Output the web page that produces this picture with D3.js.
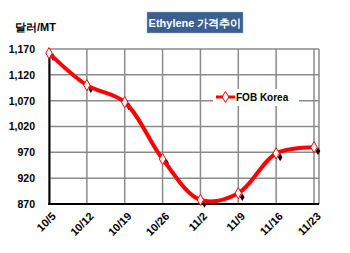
<!doctype html>
<html>
<head>
<meta charset="UTF-8">
<title>ethylene</title>
<script src="https://d3js.org/d3.v7.min.js"></script>
<style>
  body{margin:0;background:#fff;}
  text{font-family:Arial,"Liberation Sans",sans-serif;font-weight:bold;}
</style>
</head>
<body>
<svg id="chart" width="350" height="253"></svg>
<script>
var dates = ["10/5","10/12","10/19","10/26","11/2","11/9","11/16","11/23"];
var fobKorea = [1162, 1100, 1067, 957, 878, 891, 968, 980];
var yTicks = [870, 920, 970, 1020, 1070, 1120, 1170];

var svg = d3.select("#chart");
var pLeft = 49, pRight = 319, pTop = 49, pBottom = 204;

var x = d3.scalePoint().domain(dates).range([pLeft, 314]);
var y = d3.scaleLinear().domain([870, 1170]).range([pBottom, pTop]);

// grid
svg.append("g").selectAll("line").data(yTicks).enter().append("line")
  .attr("x1", pLeft).attr("x2", pRight)
  .attr("y1", function(d){return y(d);}).attr("y2", function(d){return y(d);})
  .attr("stroke", "#8a8a8a").attr("stroke-width", 1.5);
svg.append("g").selectAll("line").data(dates).enter().append("line")
  .attr("x1", function(d){return x(d);}).attr("x2", function(d){return x(d);})
  .attr("y1", pTop).attr("y2", pBottom)
  .attr("stroke", "#8a8a8a").attr("stroke-width", 1.5);
svg.append("line").attr("x1", pRight).attr("x2", pRight).attr("y1", pTop).attr("y2", pBottom)
  .attr("stroke", "#8a8a8a").attr("stroke-width", 1.5);

// axes
var yAxis = d3.axisLeft(y).tickValues(yTicks).tickSize(0).tickPadding(14)
  .tickFormat(d3.format(","));
var gy = svg.append("g").attr("transform", "translate(" + pLeft + ",0)").call(yAxis);
gy.select(".domain").attr("stroke", "#000").attr("stroke-width", 2);
gy.selectAll("text").attr("font-size", 10.5).attr("fill", "#000");

var xAxis = d3.axisBottom(x).tickSize(0).tickPadding(0);
var gx = svg.append("g").attr("transform", "translate(0," + pBottom + ")").call(xAxis);
gx.select(".domain").attr("d", "M" + (pLeft - 1) + ",0H" + pRight)
  .attr("stroke", "#000").attr("stroke-width", 2);
gx.selectAll("text").attr("font-size", 11).attr("fill", "#000")
  .attr("text-anchor", "end").attr("dy", 0).attr("y", 0)
  .attr("transform", "translate(7,13) rotate(-45)");

// line
var line = d3.line()
  .x(function(d, i){return x(dates[i]);})
  .y(function(d){return y(d);})
  .curve(d3.curveCatmullRom.alpha(0.5));

var diamond = d3.symbol().type(d3.symbolDiamond).size(36);

// shadow markers
svg.append("g").selectAll("path").data(fobKorea).enter().append("path")
  .attr("d", d3.symbol().type(d3.symbolDiamond).size(18))
  .attr("transform", function(d, i){return "translate(" + (x(dates[i]) + 4) + "," + (y(d) + 4) + ")";})
  .attr("fill", "#000");

svg.append("path").datum(fobKorea).attr("d", line)
  .attr("fill", "none").attr("stroke", "#ff0000").attr("stroke-width", 4);

svg.append("g").selectAll("path").data(fobKorea).enter().append("path")
  .attr("d", diamond)
  .attr("transform", function(d, i){return "translate(" + x(dates[i]) + "," + y(d) + ")";})
  .attr("fill", "#fff").attr("stroke", "#ff0000").attr("stroke-width", 1);

// legend
var lg = svg.append("g");
lg.append("rect").attr("x", 213).attr("y", 89).attr("width", 86).attr("height", 17).attr("fill", "#fff");
lg.append("line").attr("x1", 216).attr("x2", 235).attr("y1", 97).attr("y2", 97)
  .attr("stroke", "#ff0000").attr("stroke-width", 3);
lg.append("path").attr("d", diamond).attr("transform", "translate(225.5,97)")
  .attr("fill", "#fff").attr("stroke", "#ff0000").attr("stroke-width", 1);
lg.append("text").attr("x", 236).attr("y", 101).attr("font-size", 10).text("FOB Korea");

// unit
svg.append("text").attr("x", 15).attr("y", 31).attr("font-size", 11).text("달러/MT");

// title
svg.append("rect").attr("x", 147).attr("y", 12).attr("width", 96).attr("height", 21)
  .attr("fill", "#3b5f8e").attr("stroke", "#9fb3cf").attr("stroke-width", 0.5);
svg.append("text").attr("x", 195).attr("y", 27).attr("text-anchor", "middle")
  .attr("font-size", 11).attr("fill", "#fff").text("Ethylene 가격추이");
</script>
</body>
</html>
